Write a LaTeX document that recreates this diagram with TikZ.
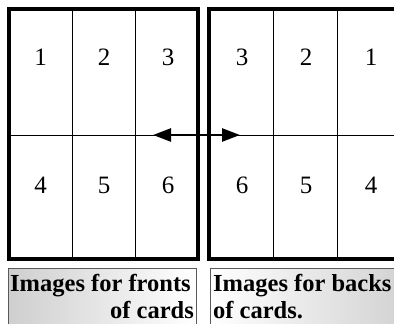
\documentclass[tikz,border=0pt]{standalone}
\usepackage{fontspec}
\setmainfont{Liberation Serif}
\usetikzlibrary{arrows.meta}
\begin{document}
\begin{tikzpicture}[x=1bp,y=-1bp,
  thickborder/.style={line width=3.5bp},
  thinline/.style={line width=1bp},
  num/.style={font=\fontsize{25bp}{28bp}\selectfont, inner sep=0pt},
  lbl/.style={font=\bfseries\fontsize{24.5bp}{27bp}\selectfont, inner sep=0pt},
  lblbox/.style={draw=black!65, line width=0.8bp},
  arr/.style={line width=2.5bp, {Triangle[length=18bp,width=13bp]}-{Triangle[length=18bp,width=13bp]}}]
\useasboundingbox (0,0) rectangle (394,324);
\clip (0,0) rectangle (394,324);
% label boxes
\draw[lblbox, left color=gray!38, right color=white] (8,268) rectangle (196,340);
\draw[lblbox, left color=white, right color=gray!38] (210,268) rectangle (420,340);
% left grid
\draw[thinline] (72,9) -- (72,259) (135,9) -- (135,259) (9,135) -- (198,135);
\draw[thickborder] (9,9) rectangle (198,259);
% right grid
\draw[thinline] (273,9) -- (273,259) (337,9) -- (337,259) (209,135) -- (420,135);
\draw[thickborder] (209,9) rectangle (401,259);
% numbers
\node[num] (f1) at (40.5,57) {1};
\node[num] (f2) at (104,57) {2};
\node[num] (f3) at (168,57) {3};
\node[num] (f4) at (40.5,185) {4};
\node[num] (f5) at (104,185) {5};
\node[num] (f6) at (168,185) {6};
\node[num] (b3) at (242,57) {3};
\node[num] (b2) at (306,57) {2};
\node[num] (b1) at (371,57) {1};
\node[num] (b6) at (242,185) {6};
\node[num] (b5) at (306,185) {5};
\node[num] (b4) at (371,185) {4};
% labels
\node[lbl, anchor=base west] (lf1) at (10,291) {Images for fronts};
\node[lbl, anchor=base east] (lf2) at (194,318) {of cards};
\node[lbl, anchor=base west] (lb1) at (213,291) {Images for backs};
\node[lbl, anchor=base west] (lb2) at (213,318) {of cards.};
% arrow
\coordinate (al) at (153,135);
\coordinate (ar) at (240,135);
\draw[arr] (al) -- (ar);
\end{tikzpicture}
\end{document}
